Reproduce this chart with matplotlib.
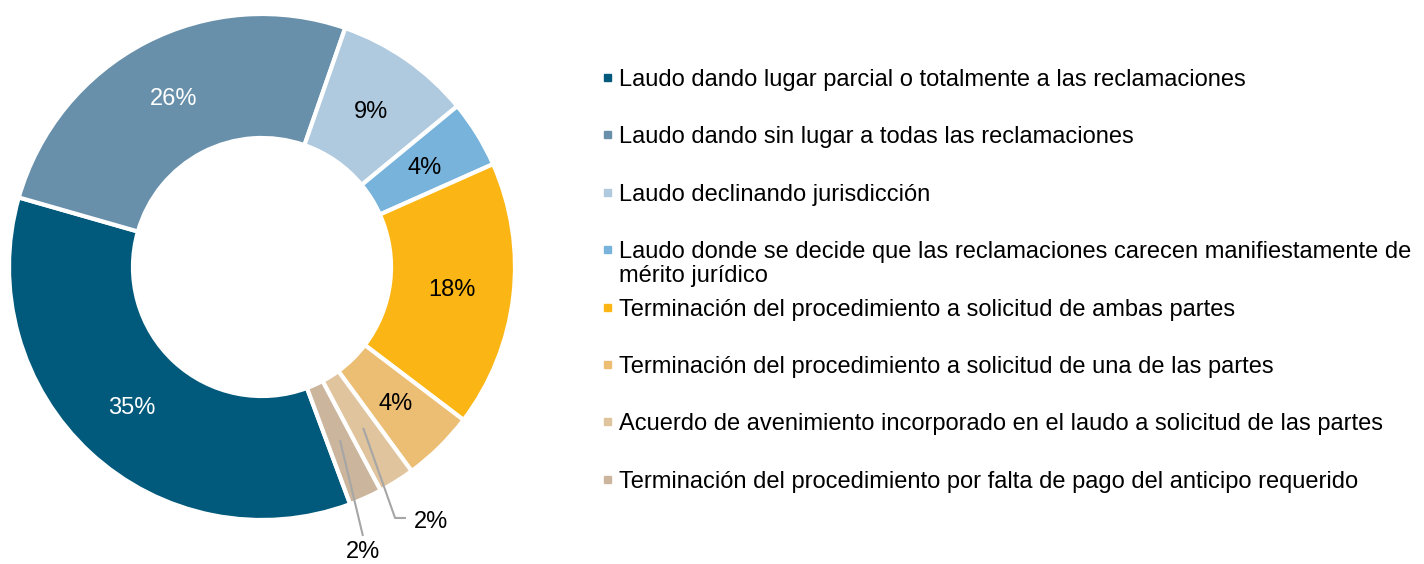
import matplotlib
matplotlib.use("Agg")
import matplotlib.pyplot as plt
import numpy as np

plt.rcParams['font.family'] = ['Liberation Sans', 'DejaVu Sans']

categories = [
    "Laudo dando lugar parcial o totalmente a las reclamaciones",
    "Laudo dando sin lugar a todas las reclamaciones",
    "Laudo declinando jurisdicción",
    "Laudo donde se decide que las reclamaciones carecen manifiestamente de\nmérito jurídico",
    "Terminación del procedimiento a solicitud de ambas partes",
    "Terminación del procedimiento a solicitud de una de las partes",
    "Acuerdo de avenimiento incorporado en el laudo a solicitud de las partes",
    "Terminación del procedimiento por falta de pago del anticipo requerido",
]
shares = [35.1, 25.9, 8.7, 4.3, 17.0, 4.6, 2.3, 2.1]
pct_labels = ["35%", "26%", "9%", "4%", "18%", "4%", "2%", "2%"]
colors = ["#015A7B", "#6890AB", "#AFC9DE", "#77B3DB", "#FBB616", "#ECBE74", "#E0C49E", "#CBB59C"]
label_colors = ["white", "white", "black", "black", "black", "black", "black", "black"]

W, H = 1424, 564
fig = plt.figure(figsize=(W / 100, H / 100), dpi=100)
cx, cy, R = 262, 267, 253
ax = fig.add_axes([(cx - R) / W, (H - cy - R) / H, 2 * R / W, 2 * R / H])
wedges, _ = ax.pie(shares, colors=colors, startangle=-69.6, counterclock=False,
                   radius=1.0,
                   wedgeprops=dict(width=0.49, edgecolor="white", linewidth=3))
ax.set_xlim(-1, 1)
ax.set_ylim(-1, 1)
ax.set_aspect("equal")
ax.axis("off")

fs = 17
rlab = 0.755
# leader-line label placements for the two small slices (index: (elbow, end, text pos, ha, va))
leaders = {
    6: ((0.526, -0.992), (0.565, -0.992), (0.60, -1.006), "left", "center"),
    7: ((0.398, -1.059), None, (0.398, -1.128), "center", "center"),
}
for i, w in enumerate(wedges):
    mid = np.deg2rad((w.theta1 + w.theta2) / 2)
    x0, y0 = rlab * np.cos(mid), rlab * np.sin(mid)
    if i in leaders:
        elbow, end, tpos, ha, va = leaders[i]
        xs = [x0, elbow[0]] + ([end[0]] if end else [])
        ys = [y0, elbow[1]] + ([end[1]] if end else [])
        ax.plot(xs, ys, color="#A6A6A6", lw=1.5, clip_on=False)
        ax.text(tpos[0], tpos[1], pct_labels[i], ha=ha, va=va, fontsize=fs, color="black")
    else:
        ax.text(x0, y0 - 0.005, pct_labels[i], ha="center", va="center", fontsize=fs,
                color=label_colors[i])

# legend
y_first, dy = 77.5, 57.4
for i, (lab, col) in enumerate(zip(categories, colors)):
    ypx = y_first + dy * i
    fig.patches.append(plt.Rectangle(((604) / W, (H - ypx - 3.5) / H), 7 / W, 7 / H,
                                     transform=fig.transFigure, color=col))
    lines = lab.split("\n")
    for k, line in enumerate(lines):
        fig.text(619 / W, (H - ypx - 8.5 - 24 * k) / H, line, ha="left", va="baseline",
                 fontsize=fs, color="black")

fig.savefig("out.png", dpi=100)
